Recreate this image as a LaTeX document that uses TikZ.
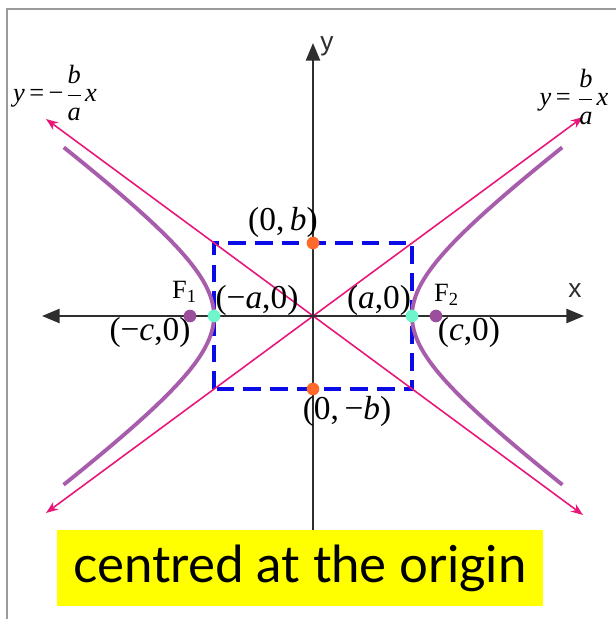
\documentclass[tikz,border=0pt]{standalone}
\usepackage{fontspec}
\setmainfont{Liberation Serif}
\newfontfamily\axisfont{Liberation Sans}
\newfontfamily\notefont{Lato}
\usetikzlibrary{
  arrows.meta,
  positioning
}
\definecolor{curve}{HTML}{A75CAC}
\definecolor{asym}{HTML}{E8167A}
\definecolor{boxblue}{HTML}{0B0BE8}
\definecolor{vertex}{HTML}{6FF5CB}
\definecolor{covertex}{HTML}{FF6A2B}
\definecolor{focus}{HTML}{9A4E9C}
\definecolor{axiscolor}{HTML}{2E2E2E}
\definecolor{framegray}{HTML}{9A9A9A}
\definecolor{highlight}{HTML}{FFFF00}
\newcommand{\semia}{0.99}
\newcommand{\semib}{0.73}
\newcommand{\focc}{1.23}
\newcommand{\vi}[1]{\textit{#1}}
\tikzset{
  axisline/.style={
    draw=axiscolor,
    line width=0.6pt,
  },
  axistip/.style={
    -{Triangle[length=5pt, width=4pt]},
  },
  asymline/.style={
    {Stealth[length=3.5pt, width=2.6pt]}-{Stealth[length=3.5pt, width=2.6pt]},
    draw=asym,
    line width=0.45pt,
  },
  branch/.style={
    draw=curve,
    line width=1.1pt,
    smooth,
    samples=60,
    domain=-1.575:1.575,
  },
  guidebox/.style={
    draw=boxblue,
    line width=1.2pt,
    dash pattern=on 5pt off 2.6pt,
  },
  dot/.style={
    circle,
    fill=#1,
    inner sep=0pt,
    minimum size=3.6pt,
  },
  ptlabel/.style={
    font=\fontsize{9.5}{11}\selectfont,
    inner sep=0pt,
  },
  flabel/.style={
    font=\fontsize{7.5}{9}\selectfont,
    inner sep=0pt,
  },
  axlabel/.style={
    font=\axisfont\fontsize{7.5}{9}\selectfont,
    text=axiscolor,
    inner sep=0pt,
  },
  eqlabel/.style={
    font=\fontsize{7.5}{9}\selectfont,
    inner sep=0pt,
  },
  note/.style={
    fill=highlight,
    font=\notefont\fontsize{14.5}{16}\selectfont,
    minimum width=4.86cm,
    minimum height=0.76cm,
    inner sep=0pt,
  },
}

\begin{document}
\begin{tikzpicture}

\useasboundingbox (-3.13,-3.03) rectangle (3.02,3.16);

% === Frame ===

\draw[framegray, line width=0.6pt] (-3.06,-3.2) -- (-3.06,3.07) -- (3.2,3.07);

% === Guide rectangle ===

\coordinate (gsw) at (-\semia,-\semib);
\coordinate (gne) at (\semia,\semib);
\draw[guidebox] (gsw) rectangle (gne);

% === Asymptotes ===

\coordinate (ul) at (-2.67,1.97);
\coordinate (lr) at (2.70,-1.99);
\coordinate (ll) at (-2.67,-1.97);
\coordinate (ur) at (2.70,1.99);
\draw[asymline] (ul) -- (lr);
\draw[asymline] (ll) -- (ur);

\node[eqlabel] (eqneg) at (-2.58,2.23)
  {\vi{y}\,=\,−$\displaystyle\frac{\vi{b}}{\vi{a}}$\vi{x}};
\node[eqlabel] (eqpos) at (2.61,2.19)
  {\vi{y}\,=\,$\displaystyle\frac{\vi{b}}{\vi{a}}$\vi{x}};

% === Axes ===

\coordinate (xl) at (-2.71,0);
\coordinate (xr) at (2.71,0);
\coordinate (yb) at (0,-2.2);
\coordinate (yt) at (0,2.73);
\draw[axisline, {Triangle[length=5pt, width=4pt]}-{Triangle[length=5pt, width=4pt]}] (xl) -- (xr);
\draw[axisline, axistip] (yb) -- (yt);

\node[axlabel] (xlab) at (2.62,0.25) {x};
\node[axlabel] (ylab) at (0.14,2.70) {y};

% === Branches ===

\draw[branch] plot ({-\semia*cosh(\x)},{\semib*sinh(\x)});
\draw[branch] plot ({\semia*cosh(\x)},{\semib*sinh(\x)});

% === Points ===

\node[dot=vertex] (vleft) at (-\semia,0) {};
\node[dot=vertex] (vright) at (\semia,0) {};
\node[dot=covertex] (cotop) at (0,\semib) {};
\node[dot=covertex] (cobot) at (0,-\semib) {};
\node[dot=focus] (fleft) at (-\focc,0) {};
\node[dot=focus] (fright) at (\focc,0) {};

% === Labels ===

\node[ptlabel] (lbtop) at (-0.30,0.94) {(0,\,\vi{b})};
\node[ptlabel] (lbbot) at (0.34,-0.95) {(0,\,−\vi{b})};
\node[ptlabel] (lvleft) at (-0.56,0.16) {(−\vi{a},0)};
\node[ptlabel] (lvright) at (0.66,0.16) {(\vi{a},0)};
\node[ptlabel] (lfleft) at (-1.63,-0.16) {(−\vi{c},0)};
\node[ptlabel] (lfright) at (1.56,-0.16) {(\vi{c},0)};
\node[flabel] (fone) at (-1.28,0.24) {F\textsubscript{1}};
\node[flabel] (ftwo) at (1.34,0.21) {F\textsubscript{2}};

% === Caption ===

\node[note] (caption) at (-0.13,-2.52) {centred at the origin};

\end{tikzpicture}
\end{document}
